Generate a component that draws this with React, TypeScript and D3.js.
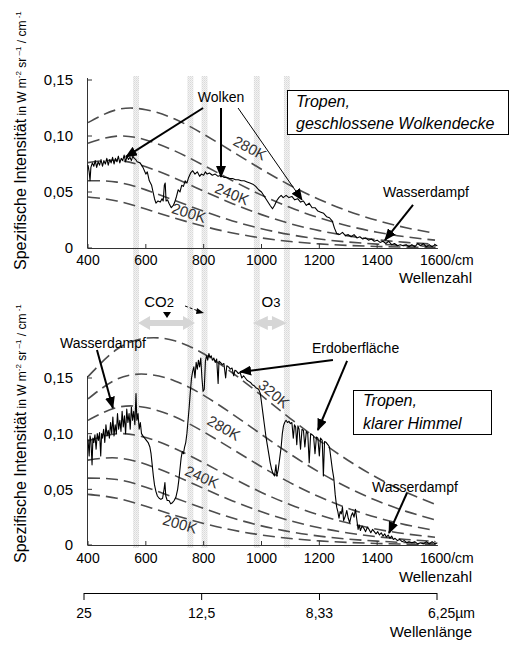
import React from "react";
import * as d3 from "d3";

// ---------- data ----------
const WN_GRID = [400, 500, 600, 700, 800, 900, 1000, 1100, 1200, 1300, 1400, 1500, 1600];
const B_200K = [0.0455, 0.042, 0.0348, 0.0267, 0.0194, 0.0134, 0.009, 0.0058, 0.0037, 0.0023, 0.0014, 0.0008, 0.0005];
const B_220K = [0.0601, 0.0588, 0.0519, 0.0424, 0.0328, 0.0242, 0.0172, 0.0119, 0.008, 0.0053, 0.0035, 0.0022, 0.0014];
const B_240K = [0.0762, 0.0782, 0.0725, 0.0624, 0.0508, 0.0396, 0.0298, 0.0217, 0.0155, 0.0108, 0.0074, 0.005, 0.0033];
const B_260K = [0.0936, 0.0999, 0.0965, 0.0867, 0.0738, 0.0601, 0.0472, 0.0361, 0.0269, 0.0197, 0.0141, 0.01, 0.007];
const B_280K = [0.1119, 0.1235, 0.1235, 0.1151, 0.1016, 0.086, 0.0703, 0.0558, 0.0433, 0.0329, 0.0246, 0.0181, 0.0131];
const B_300K = [0.1312, 0.1489, 0.1534, 0.1474, 0.1344, 0.1175, 0.0993, 0.0815, 0.0654, 0.0514, 0.0397, 0.0302, 0.0227];
const B_320K = [0.1512, 0.1758, 0.1858, 0.1834, 0.1718, 0.1545, 0.1343, 0.1136, 0.0938, 0.0759, 0.0604, 0.0474, 0.0367];

const TEMPS_TOP = [200, 220, 240, 260, 280];
const TEMPS_BOTTOM = [200, 220, 240, 260, 280, 300, 320];

const CLOUDY_WN = [400, 404, 407, 410, 415, 420, 425, 430, 435, 440, 445, 450, 455, 460, 465, 470, 475, 480, 485, 490, 495, 500, 505, 510, 515, 520, 525, 530, 535, 540, 545, 550, 555, 560, 565, 570, 580, 590, 600, 605, 612, 620, 625, 630, 635, 642, 650, 656, 660, 664, 667, 670, 675, 680, 688, 695, 700, 706, 712, 718, 724, 730, 736, 742, 748, 755, 762, 770, 778, 786, 792, 800, 806, 812, 820, 830, 840, 850, 860, 870, 880, 890, 900, 910, 920, 930, 940, 950, 960, 970, 980, 990, 1000, 1010, 1020, 1030, 1038, 1045, 1052, 1060, 1068, 1075, 1085, 1095, 1105, 1115, 1125, 1135, 1145, 1155, 1165, 1175, 1185, 1195, 1205, 1215, 1225, 1235, 1245, 1252, 1260, 1270, 1280, 1290, 1300, 1310, 1320, 1330, 1340, 1350, 1360, 1370, 1380, 1390, 1400, 1410, 1420, 1430, 1440, 1450, 1460, 1470, 1480, 1490, 1500, 1510, 1520, 1530, 1540, 1550, 1560, 1570, 1580, 1590, 1600, 1608];
const CLOUDY_RAD = [0.074, 0.068, 0.06, 0.072, 0.076, 0.073, 0.078, 0.072, 0.077, 0.074, 0.079, 0.073, 0.078, 0.075, 0.08, 0.074, 0.079, 0.076, 0.081, 0.075, 0.08, 0.077, 0.082, 0.076, 0.08, 0.078, 0.083, 0.077, 0.082, 0.079, 0.081, 0.078, 0.082, 0.08, 0.079, 0.077, 0.076, 0.072, 0.066, 0.068, 0.06, 0.056, 0.05, 0.044, 0.04, 0.042, 0.041, 0.044, 0.042, 0.056, 0.058, 0.042, 0.043, 0.04, 0.036, 0.038, 0.041, 0.046, 0.052, 0.05, 0.056, 0.055, 0.06, 0.058, 0.063, 0.067, 0.069, 0.066, 0.068, 0.064, 0.066, 0.065, 0.068, 0.066, 0.067, 0.065, 0.066, 0.064, 0.065, 0.063, 0.063, 0.062, 0.062, 0.061, 0.061, 0.06, 0.06, 0.059, 0.058, 0.057, 0.055, 0.052, 0.05, 0.046, 0.042, 0.038, 0.035, 0.038, 0.042, 0.045, 0.047, 0.045, 0.047, 0.045, 0.046, 0.043, 0.044, 0.041, 0.042, 0.038, 0.04, 0.036, 0.036, 0.033, 0.032, 0.031, 0.028, 0.027, 0.024, 0.018, 0.013, 0.012, 0.014, 0.011, 0.012, 0.01, 0.012, 0.009, 0.01, 0.008, 0.009, 0.007, 0.008, 0.006, 0.007, 0.005, 0.006, 0.004, 0.006, 0.003, 0.004, 0.002, 0.003, 0.002, 0.003, 0.001, 0.003, 0.001, 0.004, 0.002, 0.004, 0.001, 0.003, 0.001, 0.003, 0.002];

const CLEAR_WN = [400, 404, 407, 410, 414, 417, 420, 424, 428, 432, 436, 440, 444, 447, 450, 454, 458, 462, 466, 470, 474, 478, 482, 486, 490, 494, 498, 502, 506, 510, 514, 518, 522, 526, 530, 534, 538, 542, 546, 550, 554, 558, 562, 566, 569, 573, 577, 581, 585, 590, 596, 602, 608, 614, 618, 622, 626, 630, 635, 640, 646, 652, 658, 663, 666, 669, 674, 680, 686, 692, 698, 704, 710, 714, 718, 722, 726, 730, 734, 738, 742, 746, 750, 754, 758, 762, 766, 770, 774, 778, 782, 786, 790, 794, 798, 802, 806, 810, 814, 818, 822, 826, 830, 835, 840, 845, 850, 853, 858, 864, 870, 876, 880, 886, 892, 898, 904, 908, 914, 920, 926, 932, 938, 944, 950, 956, 962, 968, 975, 982, 990, 996, 1000, 1005, 1010, 1015, 1020, 1025, 1030, 1035, 1040, 1045, 1050, 1053, 1058, 1063, 1068, 1072, 1076, 1080, 1085, 1090, 1095, 1100, 1105, 1110, 1114, 1118, 1122, 1126, 1130, 1135, 1140, 1145, 1150, 1155, 1160, 1165, 1170, 1175, 1180, 1185, 1190, 1195, 1200, 1204, 1210, 1214, 1218, 1224, 1230, 1235, 1240, 1245, 1250, 1255, 1260, 1264, 1268, 1272, 1276, 1280, 1284, 1290, 1295, 1300, 1305, 1310, 1315, 1320, 1325, 1330, 1334, 1338, 1342, 1348, 1354, 1360, 1366, 1372, 1378, 1384, 1390, 1396, 1402, 1408, 1414, 1420, 1426, 1432, 1438, 1444, 1450, 1456, 1462, 1470, 1478, 1486, 1494, 1502, 1510, 1520, 1530, 1540, 1550, 1560, 1570, 1580, 1590, 1600, 1608];
const CLEAR_RAD = [0.095, 0.08, 0.098, 0.094, 0.072, 0.096, 0.092, 0.099, 0.086, 0.1, 0.094, 0.101, 0.08, 0.1, 0.096, 0.104, 0.092, 0.108, 0.098, 0.103, 0.096, 0.11, 0.1, 0.115, 0.098, 0.108, 0.1, 0.118, 0.104, 0.112, 0.102, 0.12, 0.106, 0.116, 0.1, 0.122, 0.11, 0.118, 0.104, 0.124, 0.112, 0.12, 0.108, 0.136, 0.112, 0.118, 0.104, 0.11, 0.1, 0.098, 0.096, 0.094, 0.092, 0.088, 0.082, 0.072, 0.062, 0.054, 0.048, 0.044, 0.042, 0.041, 0.042, 0.05, 0.056, 0.044, 0.04, 0.04, 0.037, 0.038, 0.04, 0.043, 0.05, 0.058, 0.068, 0.078, 0.084, 0.082, 0.088, 0.092, 0.1, 0.112, 0.124, 0.138, 0.15, 0.156, 0.16, 0.15, 0.164, 0.158, 0.166, 0.16, 0.168, 0.15, 0.138, 0.14, 0.165, 0.17, 0.166, 0.172, 0.168, 0.17, 0.166, 0.168, 0.164, 0.167, 0.145, 0.165, 0.164, 0.162, 0.163, 0.15, 0.161, 0.16, 0.158, 0.159, 0.152, 0.157, 0.156, 0.154, 0.155, 0.15, 0.152, 0.15, 0.148, 0.147, 0.146, 0.144, 0.143, 0.141, 0.14, 0.136, 0.128, 0.118, 0.108, 0.098, 0.09, 0.082, 0.074, 0.068, 0.064, 0.062, 0.072, 0.062, 0.068, 0.078, 0.088, 0.1, 0.107, 0.11, 0.112, 0.11, 0.111, 0.109, 0.11, 0.096, 0.108, 0.106, 0.09, 0.107, 0.104, 0.086, 0.104, 0.103, 0.088, 0.102, 0.1, 0.074, 0.1, 0.099, 0.098, 0.082, 0.097, 0.096, 0.08, 0.096, 0.094, 0.062, 0.093, 0.092, 0.09, 0.088, 0.078, 0.068, 0.06, 0.045, 0.034, 0.03, 0.024, 0.03, 0.028, 0.034, 0.022, 0.026, 0.031, 0.024, 0.02, 0.026, 0.029, 0.025, 0.032, 0.022, 0.014, 0.018, 0.013, 0.017, 0.015, 0.012, 0.016, 0.014, 0.011, 0.014, 0.012, 0.01, 0.012, 0.009, 0.011, 0.008, 0.01, 0.007, 0.009, 0.006, 0.008, 0.005, 0.006, 0.004, 0.005, 0.003, 0.004, 0.002, 0.003, 0.002, 0.003, 0.001, 0.002, 0.001, 0.003, 0.001, 0.003, 0.001, 0.002];

const Y_TICKS = [0, 0.05, 0.1, 0.15];
const Y_TICK_LABELS = ["0", "0,05", "0,10", "0,15"];
const X_TICKS = [400, 600, 800, 1000, 1200, 1400, 1600];
const X_TICK_LABELS = ["400", "600", "800", "1000", "1200", "1400", "1600"];
const WL_TICKS = [25, 12.5, 8.33, 6.25];
const WL_TICK_LABELS = ["25", "12,5", "8,33", "6,25"];
const BAND_WN = [566, 754, 803, 984, 1088];

// ---------- layout ----------
const FONT = "'Liberation Sans', Arial, Helvetica, sans-serif";
const planckByT: Record<number, number[]> = {
  200: B_200K, 220: B_220K, 240: B_240K, 260: B_260K, 280: B_280K, 300: B_300K, 320: B_320K,
};

const x = d3.scaleLinear().domain([400, 1600]).range([88, 435]);
const yTop = d3.scaleLinear().domain([0, 0.15]).range([248, 80]);
const yBot = d3.scaleLinear().domain([0, 0.15]).range([545, 378]);
const xWl = d3.scaleLinear().domain([400, 1600]).range([84, 437]);

type TLabel = { t: string; wn: number; v: number; rot: number };
type Arrow = { from: [number, number]; to: [number, number]; w: number };

function YTitle({ y0 }: { y0: number }) {
  return (
    <text transform={`translate(26,${y0}) rotate(-90)`} fontFamily={FONT} fontSize={16} fill="#000">
      Spezifische Intensität
      <tspan fontSize={12}> in W m</tspan>
      <tspan fontSize={8} dy={-5}>-2</tspan>
      <tspan fontSize={12} dy={5}> sr</tspan>
      <tspan fontSize={8} dy={-5}> –1</tspan>
      <tspan fontSize={12} dy={5}> / cm</tspan>
      <tspan fontSize={8} dy={-5}> -1</tspan>
    </text>
  );
}

function Panel({
  y, temps, wn, rad, tLabels, arrows, xLabelY, wzY,
}: {
  y: d3.ScaleLinear<number, number>; temps: number[]; wn: number[]; rad: number[];
  tLabels: TLabel[]; arrows: Arrow[]; xLabelY: number; wzY: number;
}) {
  const planckLine = d3.line<number>().x((_, i) => x(WN_GRID[i])).y((d) => y(d)).curve(d3.curveNatural);
  const specLine = d3.line<number>().x((_, i) => x(wn[i])).y((d) => y(d));
  const y0 = y(0);
  const yTopPx = y(0.15);
  return (
    <g>
      {temps.map((t) => (
        <path key={t} d={planckLine(planckByT[t]) || ""} fill="none" stroke="#4d4d4d"
          strokeWidth={1.6} strokeDasharray="12 6" />
      ))}
      {/* axes */}
      <line x1={87.5} x2={87.5} y1={y0} y2={yTopPx - 2} stroke="#333" strokeWidth={1} />
      <line x1={87.5} x2={x(1610)} y1={y0 + 0.5} y2={y0 + 0.5} stroke="#333" strokeWidth={1} />
      {Y_TICKS.map((v, i) => (
        <g key={v}>
          <line x1={87.5} x2={92} y1={y(v)} y2={y(v)} stroke="#333" />
          <text x={73} y={y(v)} dy="0.35em" textAnchor="end" fontFamily={FONT} fontSize={15}>{Y_TICK_LABELS[i]}</text>
        </g>
      ))}
      {X_TICKS.map((v, i) => (
        <g key={v}>
          <line x1={x(v)} x2={x(v)} y1={y0} y2={y0 - 4} stroke="#333" />
          {i < X_TICKS.length - 1 ? (
            <text x={x(v)} y={xLabelY} textAnchor="middle" fontFamily={FONT} fontSize={14}>{X_TICK_LABELS[i]}</text>
          ) : (
            <text x={x(v) - 15} y={xLabelY} fontFamily={FONT} fontSize={14}>{X_TICK_LABELS[i]}/cm</text>
          )}
        </g>
      ))}
      <text x={472} y={wzY} textAnchor="end" fontFamily={FONT} fontSize={15}>Wellenzahl</text>
      {/* spectrum */}
      <path d={specLine(rad) || ""} fill="none" stroke="#000" strokeWidth={1.1} strokeLinejoin="round" />
      {tLabels.map((l) => (
        <text key={l.t} transform={`translate(${x(l.wn)},${y(l.v)}) rotate(${l.rot})`} textAnchor="middle"
          dy="0.35em" fontFamily={FONT} fontSize={15} fill="#333">{l.t}</text>
      ))}
      {arrows.map((a, i) => (
        <line key={i} x1={x(a.from[0])} y1={y(a.from[1])} x2={x(a.to[0])} y2={y(a.to[1])}
          stroke="#000" strokeWidth={a.w} markerEnd="url(#ah)" />
      ))}
    </g>
  );
}

export default function App() {
  const bandW = 6;
  const co2a = x(573), co2b = x(770), o3a = x(970), o3b = x(1088);
  const dbl = (a: number, b: number, yc: number, hl: number) =>
    `M${a},${yc} L${a + hl},${yc - 7} L${a + hl},${yc - 3} L${b - hl},${yc - 3} L${b - hl},${yc - 7} L${b},${yc} L${b - hl},${yc + 7} L${b - hl},${yc + 3} L${a + hl},${yc + 3} L${a + hl},${yc + 7} Z`;
  return (
    <svg width={527} height={647} viewBox="0 0 527 647"
      style={{ position: "absolute", left: 0, top: 0, background: "#fff" }}>
      <defs>
        <pattern id="dots" width={2} height={2} patternUnits="userSpaceOnUse">
          <rect width={2} height={2} fill="#f2f2f2" />
          <rect width={1} height={1} fill="#d9d9d9" />
          <rect x={1} y={1} width={1} height={1} fill="#e2e2e2" />
        </pattern>
        <marker id="ah" viewBox="0 0 12 10" refX={11} refY={5} markerWidth={12} markerHeight={10}
          markerUnits="userSpaceOnUse" orient="auto">
          <path d="M0,0 L12,5 L0,10 z" fill="#000" />
        </marker>
      </defs>
      <rect width={527} height={647} fill="#fff" />
      {BAND_WN.map((w) => (
        <rect key={w} x={x(w) - bandW / 2} y={76} width={bandW} height={472} fill="url(#dots)" />
      ))}

      <YTitle y0={270} />
      <YTitle y0={563} />

      <Panel y={yTop} temps={TEMPS_TOP} wn={CLOUDY_WN} rad={CLOUDY_RAD} xLabelY={265} wzY={283}
        tLabels={[
          { t: "280K", wn: 960, v: 0.0893, rot: 28 },
          { t: "240K", wn: 898, v: 0.0482, rot: 22 },
          { t: "200K", wn: 749, v: 0.0313, rot: 17 },
        ]}
        arrows={[
          { from: [798, 0.125], to: [531, 0.0813], w: 2 },
          { from: [860, 0.125], to: [860, 0.0634], w: 2 },
          { from: [919, 0.125], to: [1140, 0.0429], w: 1 },
          { from: [1524, 0.0384], to: [1427, 0.0071], w: 2 },
        ]} />
      <Panel y={yBot} temps={TEMPS_BOTTOM} wn={CLEAR_WN} rad={CLEAR_RAD} xLabelY={563} wzY={582}
        tLabels={[
          { t: "320K", wn: 1043, v: 0.1357, rot: 40 },
          { t: "280K", wn: 870, v: 0.1051, rot: 30 },
          { t: "240K", wn: 794, v: 0.0611, rot: 24 },
          { t: "200K", wn: 718, v: 0.0189, rot: 16 },
        ]}
        arrows={[
          { from: [431, 0.1752], to: [486, 0.1231], w: 2 },
          { from: [1247, 0.1662], to: [926, 0.1554], w: 2 },
          { from: [1296, 0.1653], to: [1195, 0.1033], w: 2 },
          { from: [1503, 0.0467], to: [1441, 0.0108], w: 2 },
        ]} />

      {/* annotations top */}
      <text x={221} y={97} dy="0.35em" textAnchor="middle" fontFamily={FONT} fontSize={14}>Wolken</text>
      <text x={383} y={192} dy="0.35em" fontFamily={FONT} fontSize={14}>Wasserdampf</text>
      <rect x={287.5} y={90.5} width={221} height={44} fill="#fff" stroke="#000" />
      <text x={296} y={107} fontFamily={FONT} fontSize={16} fontStyle="italic">Tropen,</text>
      <text x={296} y={129} fontFamily={FONT} fontSize={16} fontStyle="italic">geschlossene Wolkendecke</text>

      {/* CO2 / O3 */}
      <text x={159} y={302} dy="0.35em" textAnchor="middle" fontFamily={FONT} fontSize={15}>CO<tspan fontSize={13}>2</tspan></text>
      <text x={271} y={302} dy="0.35em" textAnchor="middle" fontFamily={FONT} fontSize={15}>O<tspan fontSize={13}>3</tspan></text>
      <path d="M163,312 L171,312 L167,318 Z" fill="#000" />
      <path d={dbl(co2a, co2b, 323, 12)} fill="#d6d6d6" />
      <path d={dbl(o3a, o3b, 323, 15)} fill="#d6d6d6" />
      <line x1={185} y1={306} x2={201} y2={312} stroke="#000" strokeWidth={1} strokeDasharray="3 2" />
      <path d="M197,308 L204,313 L196,314 Z" fill="#000" />

      {/* annotations bottom */}
      <text x={60} y={343} dy="0.35em" fontFamily={FONT} fontSize={14}>Wasserdampf</text>
      <text x={312} y={348} dy="0.35em" fontFamily={FONT} fontSize={14}>Erdoberfläche</text>
      <text x={372} y={487} dy="0.35em" fontFamily={FONT} fontSize={14}>Wasserdampf</text>
      <rect x={353.5} y={390.5} width={138} height={44} fill="#fff" stroke="#000" />
      <text x={363} y={406} fontFamily={FONT} fontSize={16} fontStyle="italic">Tropen,</text>
      <text x={363} y={429} fontFamily={FONT} fontSize={16} fontStyle="italic">klarer Himmel</text>

      {/* wavelength axis */}
      <line x1={xWl(1e4 / 25)} x2={xWl(1e4 / 6.25)} y1={593.5} y2={593.5} stroke="#000" />
      {WL_TICKS.map((l, i) => (
        <g key={l}>
          <line x1={xWl(1e4 / l)} x2={xWl(1e4 / l)} y1={593} y2={600} stroke="#000" />
          {i < WL_TICKS.length - 1 ? (
            <text x={xWl(1e4 / l)} y={618} textAnchor="middle" fontFamily={FONT} fontSize={14}>{WL_TICK_LABELS[i]}</text>
          ) : (
            <text x={xWl(1e4 / l) - 9} y={618} fontFamily={FONT} fontSize={14}>{WL_TICK_LABELS[i]}µm</text>
          )}
        </g>
      ))}
      <text x={472} y={637} textAnchor="end" fontFamily={FONT} fontSize={15}>Wellenlänge</text>
    </svg>
  );
}
